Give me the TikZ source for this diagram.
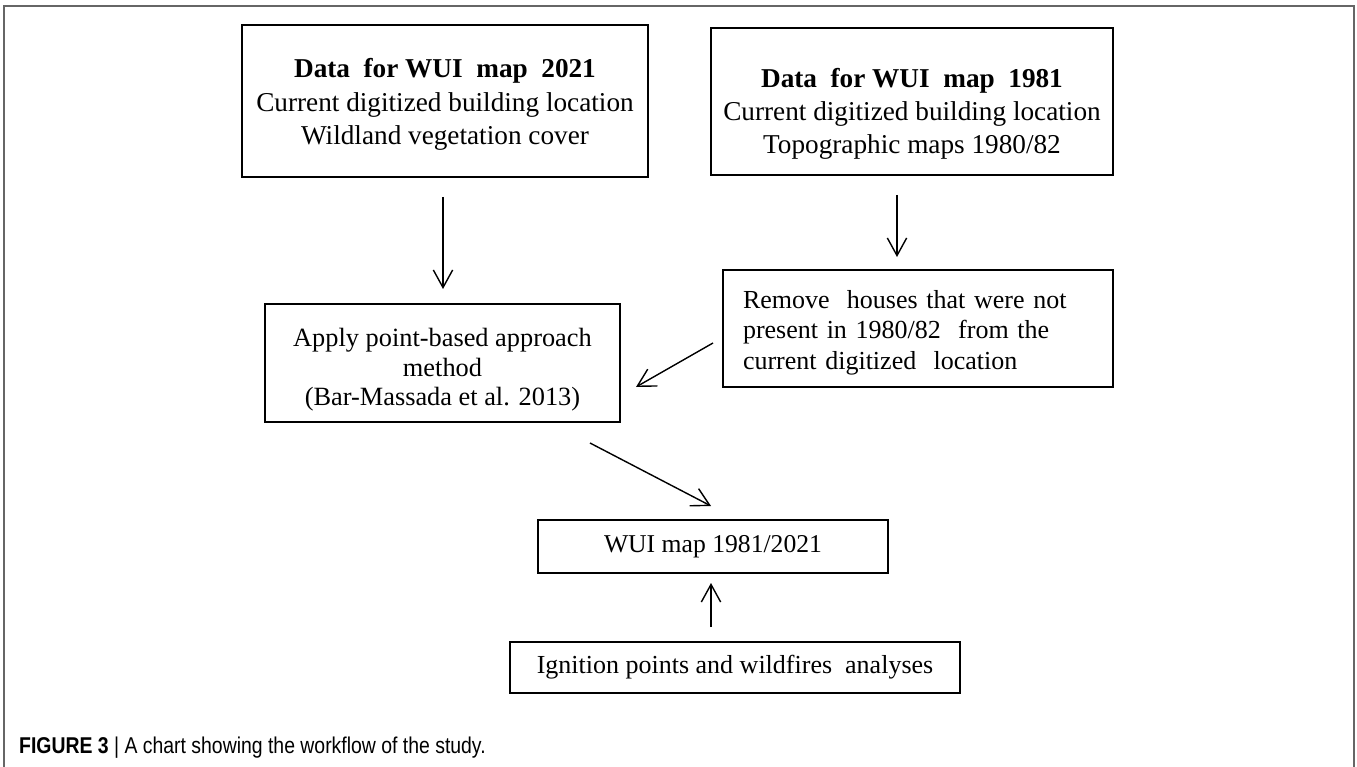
\documentclass[tikz,border=0pt]{standalone}
\usepackage{fontspec}
\setmainfont{Liberation Serif}
\newfontfamily\capfont[FakeStretch=0.85]{Liberation Sans}
\usetikzlibrary{positioning,arrows.meta}
\tikzset{
  flowbox/.style={draw, line width=1.1pt, align=center, inner sep=0pt,
    font=\fontsize{15.5}{19}\selectfont},
  flowarrow/.style={-{Straight Barb[length=10pt,width=11pt]}, line width=0.8pt},
}
\begin{document}
\begin{tikzpicture}[x=0.02cm, y=-0.02cm]
  \useasboundingbox (0,0) rectangle (1357,767);
  % outer frame
  \draw[gray!80!black, line width=1.2pt] (4,767) -- (4,6) -- (1354,6) -- (1354,767);
  % boxes
  \node[flowbox, minimum width=406*0.02cm, minimum height=152*0.02cm] (dataA) at (445,101)
    {\rule{0pt}{15pt}\textbf{Data\ \ for\ WUI\ \ map\ \ 2021}\\Current digitized\ building location\\Wildland vegetation cover};
  \node[flowbox, minimum width=402*0.02cm, minimum height=147*0.02cm] (dataB) at (912,101.5)
    {\rule{0pt}{25pt}\textbf{Data\ \ for\ WUI\ \ map\ \ 1981}\\Current digitized\ building location\\Topographic maps 1980/82};
  \node[flowbox, minimum width=355*0.02cm, minimum height=118*0.02cm,
    font=\fontsize{15}{17}\selectfont] (apply) at (442.5,363)
    {\rule{0pt}{18pt}Apply point-based approach\\method\\(Bar-Massada et al. 2013)};
  \node[flowbox, minimum width=390*0.02cm, minimum height=117*0.02cm, text width=350*0.02cm,
    align=left, font=\fontsize{14.8}{17.5}\selectfont] (remove) at (918,328.5)
    {\rule{0pt}{15pt}Remove\ \ houses that were not\\present in 1980/82\ \ from\ the\\current digitized\ \ location};
  \node[flowbox, minimum width=350*0.02cm, minimum height=53*0.02cm,
    font=\fontsize{14.6}{17}\selectfont] (wui) at (713,546.5)
    {WUI map 1981/2021};
  \node[flowbox, minimum width=450*0.02cm, minimum height=51*0.02cm,
    font=\fontsize{14.8}{17}\selectfont] (ignit) at (735,667.5)
    {Ignition points and wildfires\ \ analyses};
  % connectors
  \coordinate (a1) at (443,197);
  \coordinate (a2) at (443,289);
  \draw[flowarrow] (a1) -- (a2);
  \coordinate (b1) at (897,195);
  \coordinate (b2) at (897,257);
  \draw[flowarrow] (b1) -- (b2);
  \coordinate (c1) at (713,343);
  \coordinate (c2) at (636,387);
  \draw[flowarrow] (c1) -- (c2);
  \coordinate (d1) at (590,443);
  \coordinate (d2) at (711,506);
  \draw[flowarrow] (d1) -- (d2);
  \coordinate (e1) at (711,627);
  \coordinate (e2) at (711,583);
  \draw[flowarrow] (e1) -- (e2);
  % caption
  \node[anchor=west, font=\capfont\fontsize{13}{15}\selectfont] (caption) at (13,748)
    {\textbf{FIGURE 3} | A chart showing the workflow of the study.};
\end{tikzpicture}
\end{document}
